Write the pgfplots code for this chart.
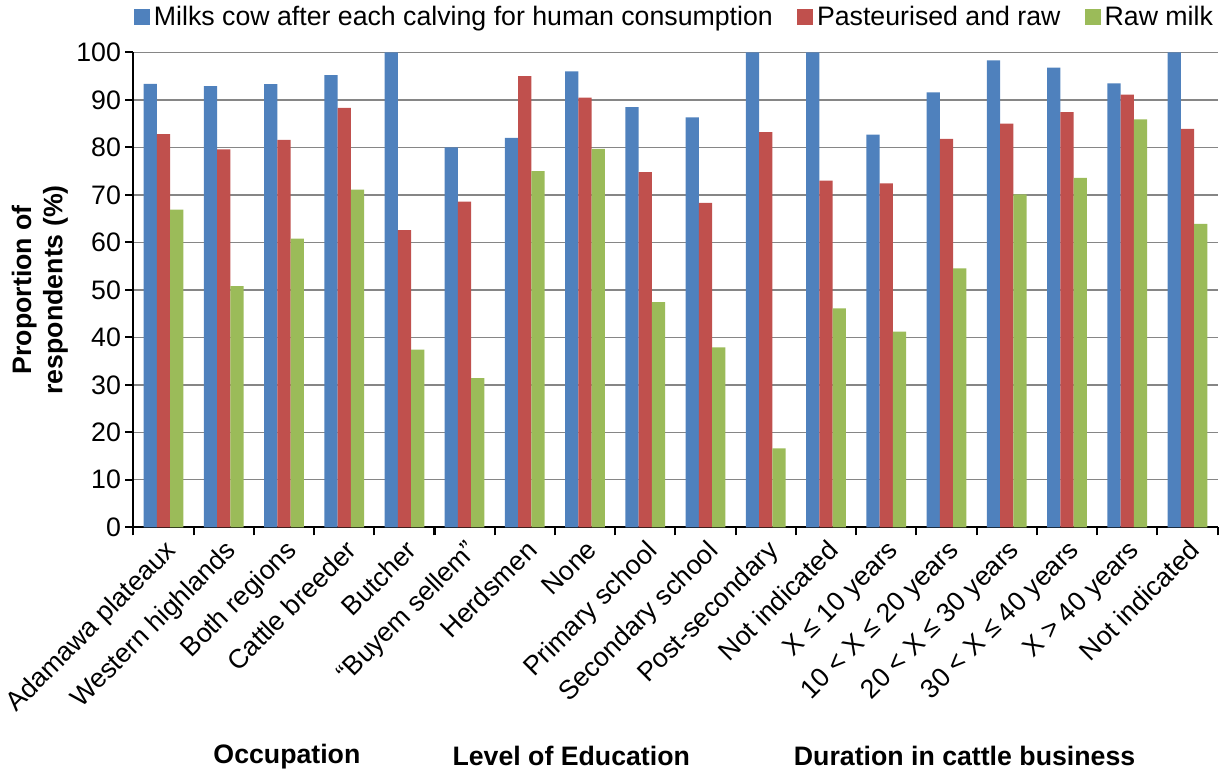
\documentclass[border=0pt]{standalone}
\usepackage{pgfplots}
\usepackage{pgfplotstable}
\pgfplotsset{compat=1.18}
\usepackage{fontspec}
\setmainfont{Liberation Sans}

\definecolor{cblue}{HTML}{4F81BD}
\definecolor{cred}{HTML}{C0504D}
\definecolor{cgreen}{HTML}{9BBB59}
\definecolor{cgrid}{HTML}{868686}

\newcommand{\chartfont}{\fontsize{13.3}{15.5}\selectfont}

% x  milks  pasteurised  raw
\pgfplotstableread{
x  milk   past  raw
0  93.4   82.8  66.9
1  92.9   79.6  50.8
2  93.3   81.6  60.8
3  95.2   88.3  71.1
4  100.0  62.6  37.4
5  80.0   68.6  31.4
6  82.0   95.0  75.0
7  96.0   90.5  79.7
8  88.5   74.8  47.4
9  86.3   68.3  37.9
10 100.0  83.2  16.6
11 100.0  73.0  46.1
12 82.7   72.4  41.2
13 91.6   81.8  54.5
14 98.3   85.0  70.1
15 96.8   87.4  73.6
16 93.5   91.1  85.9
17 100.0  83.9  63.9
}\datatable

\begin{document}
\chartfont
\begin{tikzpicture}
\begin{axis}[
    width=540pt, height=236.5pt, scale only axis,
    ybar=0pt, bar width=0.22,
    xmin=-0.5, xmax=17.5, ymin=0, ymax=100,
    ytick={0,10,...,100},
    xtick={0,...,17},
    xticklabels={Adamawa plateaux, Western highlands, Both regions, Cattle breeder,
        Butcher, “Buyem sellem”, Herdsmen, None, Primary school, Secondary school,
        Post-secondary, Not indicated, X ≤ 10 years, 10 < X ≤ 20 years,
        20 < X ≤ 30 years, 30 < X ≤ 40 years, X > 40 years, Not indicated},
    minor xtick={-0.5,0.5,...,17.5},
    major x tick style={draw=none},
    minor x tick style={black, line width=1pt},
    y tick style={black, line width=1pt},
    tick align=outside,
    major tick length=4pt, minor tick length=4pt,
    axis x line*=bottom, axis y line*=left,
    axis line style={-, line width=1pt},
    ymajorgrids, major grid style={cgrid, line width=0.7pt},
    /pgf/number format/assume math mode=true,
    ticklabel style={font=\chartfont},
    yticklabel style={inner sep=2pt},
    xticklabel style={rotate=45, anchor=north east, inner sep=1pt},
    ylabel={Proportion of\\respondents (\%)},
    ylabel style={font=\chartfont\bfseries, align=center, inner sep=0pt, yshift=2pt},
    legend style={at={(0.5,1.035)}, anchor=south, legend columns=3, draw=none,
        font=\chartfont, inner sep=1pt,
        /tikz/every even column/.append style={column sep=10pt}},
    legend image code/.code={\fill[#1] (0pt,-3.5pt) rectangle (8pt,4.5pt);},
    clip=false,
]
\addplot[fill=cblue, draw=none] table[x=x, y=milk] {\datatable};
\addplot[fill=cred, draw=none] table[x=x, y=past] {\datatable};
\addplot[fill=cgreen, draw=none] table[x=x, y=raw] {\datatable};
\legend{Milks cow after each calving for human consumption, Pasteurised and raw, Raw milk}

\node[font=\chartfont\bfseries] at (axis cs:2.05,0) [yshift=-114pt] {Occupation};
\node[font=\chartfont\bfseries] at (axis cs:6.77,0) [yshift=-114pt] {Level of Education};
\node[font=\chartfont\bfseries] at (axis cs:13.3,0) [yshift=-114pt] {Duration in cattle business};
\end{axis}
\end{tikzpicture}
\end{document}
